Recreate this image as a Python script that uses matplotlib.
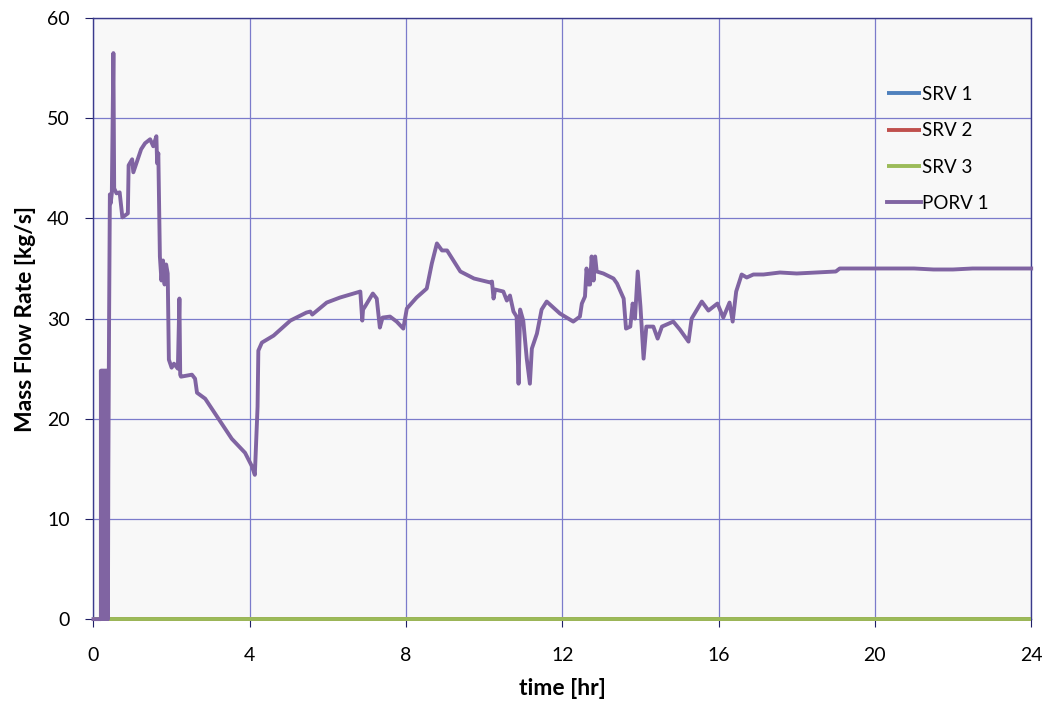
import numpy as np
import matplotlib.pyplot as plt

plt.rcParams['font.family'] = ['Lato', 'DejaVu Sans']

# time [hr] and mass flow [kg/s]
srv_t = [0.0, 24.0]
srv1 = [0.0, 0.0]
srv2 = [0.0, 0.0]
srv3 = [0.0, 0.0]

porv_t = [0.0, 0.19, 0.19, 0.21, 0.21, 0.23, 0.23, 0.25, 0.25, 0.27, 0.27, 0.29, 0.29,
          0.31, 0.31, 0.33, 0.33, 0.35, 0.35, 0.37, 0.38, 0.40, 0.42, 0.44, 0.47, 0.51,
          0.53, 0.59, 0.67, 0.74, 0.88, 0.90, 0.99, 1.02, 1.14, 1.22, 1.32, 1.45, 1.53,
          1.61, 1.63, 1.66, 1.70, 1.74, 1.78, 1.82, 1.86, 1.90, 1.93, 2.00, 2.06, 2.16,
          2.20, 2.22, 2.24, 2.52, 2.60, 2.65, 2.86, 3.20, 3.54, 3.88, 4.05, 4.13, 4.20,
          4.22, 4.31, 4.61, 5.04, 5.45, 5.55, 5.60, 5.97, 6.31, 6.83, 6.88, 6.90, 6.95,
          7.15, 7.25, 7.33, 7.40, 7.59, 7.76, 7.93, 8.02, 8.27, 8.53, 8.66, 8.79, 8.92,
          9.05, 9.39, 9.74, 10.16, 10.20, 10.24, 10.28, 10.49, 10.58, 10.66, 10.75, 10.83,
          10.88, 10.92, 11.00, 11.09, 11.17, 11.22, 11.35, 11.47, 11.60, 11.94, 12.28,
          12.45, 12.50, 12.58, 12.62, 12.67, 12.71, 12.75, 12.80, 12.84, 12.88, 13.05,
          13.31, 13.40, 13.57, 13.63, 13.74, 13.80, 13.86, 13.93, 14.00, 14.08, 14.15,
          14.33, 14.44, 14.55, 14.84, 15.01, 15.23, 15.31, 15.57, 15.74, 15.97, 16.12,
          16.28, 16.36, 16.45, 16.59, 16.72, 16.89, 17.15, 17.57, 18.0, 18.5, 19.0, 19.1,
          20.0, 21.0, 21.5, 22.0, 22.5, 23.0, 24.0]
porv1 = [0.0, 0.0, 24.8, 0.0, 24.8, 0.0, 24.8, 0.0, 24.8, 0.0, 24.8, 0.0, 24.8,
         0.0, 24.8, 0.0, 24.8, 0.0, 24.8, 0.0, 14.4, 30.0, 42.4, 41.5, 42.5, 56.5,
         43.0, 42.5, 42.6, 40.1, 40.5, 45.3, 45.9, 44.6, 46.0, 46.9, 47.5, 47.9, 47.2,
         48.2, 45.5, 46.5, 36.2, 33.8, 35.8, 33.4, 35.4, 34.5, 25.9, 25.1, 25.5, 25.0,
         32.0, 24.4, 24.2, 24.4, 24.0, 22.6, 22.0, 20.0, 18.0, 16.6, 15.3, 14.4, 21.2,
         26.8, 27.6, 28.3, 29.8, 30.6, 30.7, 30.4, 31.6, 32.1, 32.7, 29.8, 30.9, 31.2,
         32.5, 32.0, 29.1, 30.1, 30.2, 29.7, 29.0, 31.0, 32.1, 33.0, 35.5, 37.5, 36.8,
         36.8, 34.7, 34.0, 33.6, 33.7, 32.0, 32.9, 32.7, 31.8, 32.3, 30.7, 30.2,
         23.5, 30.9, 29.8, 26.0, 23.5, 27.0, 28.5, 30.9, 31.7, 30.5, 29.7,
         30.2, 31.5, 32.2, 35.0, 33.4, 33.4, 36.2, 33.8, 36.2, 34.7, 34.5,
         34.0, 33.5, 32.0, 29.0, 29.2, 31.5, 30.0, 34.7, 31.2, 26.0, 29.2,
         29.2, 28.0, 29.2, 29.7, 28.9, 27.7, 30.0, 31.7, 30.8, 31.5, 30.1,
         31.6, 29.7, 32.7, 34.4, 34.1, 34.4, 34.4, 34.6, 34.5, 34.6, 34.7, 35.0,
         35.0, 35.0, 34.9, 34.9, 35.0, 35.0, 35.0]

series = [("SRV 1", srv1, "#4F81BD"), ("SRV 2", srv2, "#C0504D"), ("SRV 3", srv3, "#9BBB59")]

fig = plt.figure(figsize=(10.49, 7.10), dpi=100)
ax = fig.add_axes([0.0891, 0.128, 0.8939, 0.8466])
ax.set_facecolor("#F8F8F8")

# lines sit above the spines so the zero-flow traces show on the x axis
for name, vals, col in series:
    ax.plot(srv_t, vals, color=col, lw=2.8, label=name, solid_capstyle="butt",
            clip_on=False, zorder=3)
ax.plot(porv_t, porv1, color="#8064A2", lw=2.8, label="PORV 1",
        solid_joinstyle="round", clip_on=False, zorder=3)

ax.set_xlim(0, 24)
ax.set_ylim(0, 60)
ax.set_xticks(np.arange(0, 25, 4))
ax.set_yticks(np.arange(0, 61, 10))
ax.grid(True, color="#7B7BCB", lw=0.9)
ax.set_axisbelow(True)
for s in ax.spines.values():
    s.set_color("#3A3A8C")
    s.set_linewidth(1.0)
ax.tick_params(direction="out", length=6, color="#1F1F66", labelsize=14)
ax.tick_params(axis="x", pad=14)
ax.tick_params(axis="y", pad=11)

ax.set_xlabel("time [hr]", fontsize=16.5, fontweight="bold", labelpad=10)
ax.set_ylabel("Mass Flow Rate [kg/s]", fontsize=16.5, fontweight="bold", labelpad=8)

ax.legend(loc="upper left", bbox_to_anchor=(0.828, 0.915), frameon=False, fontsize=13.5,
          handlelength=1.8, handletextpad=0.1, labelspacing=1.03)

fig.savefig("out.png", dpi=100)
